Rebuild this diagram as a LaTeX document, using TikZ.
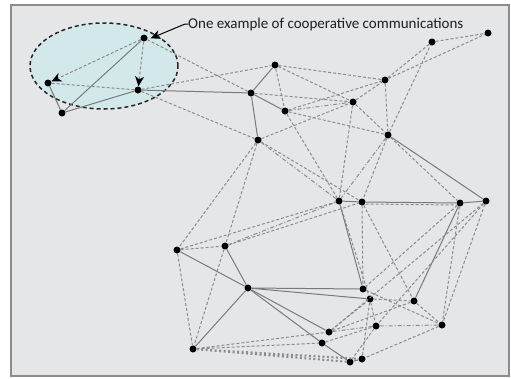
\documentclass[tikz,border=0pt]{standalone}
\usepackage{fontspec}
\setmainfont{Carlito}
\usetikzlibrary{shapes.geometric, arrows.meta, positioning}

\definecolor{panel}{HTML}{E5E6E8}
\definecolor{rim}{HTML}{8C8C8C}
\definecolor{cloud}{HTML}{D3E8EA}
\definecolor{ink}{HTML}{1E1E2A}

\begin{document}
\begin{tikzpicture}[
    x=1pt, y=-1pt,
    dot/.style={circle, fill=black, inner sep=0pt, minimum size=7pt},
    link/.style={draw=black!52, line width=1pt},
    wire/.style={draw=black!45, line width=1pt, dash pattern=on 3pt off 2pt},
    wiredot/.style={draw=black!45, line width=1pt, dash pattern=on 4pt off 2pt on 1pt off 2pt},
    wirethick/.style={draw=black!45, line width=2pt, dash pattern=on 2pt off 2.5pt},
    arrow/.style={-{Stealth[length=10pt,width=9pt,inset=3pt,black]}, line width=1pt}
]
\useasboundingbox (0,0) rectangle (511,378);

% Panel
\draw[fill=panel, draw=rim, line width=1.5pt] (11,5) rectangle (509,376);

% Cooperating group
\node[ellipse, fill=cloud, draw=black!85, line width=1.5pt, dash pattern=on 4pt off 3pt,
      minimum width=148pt, minimum height=86pt, inner sep=0pt] (group) at (104,66) {};

% Terminals
\node[dot] (A) at (144,38) {};
\node[dot] (B) at (48,83) {};
\node[dot] (C) at (138,90) {};
\node[dot] (D) at (62,113) {};
\node[dot] (E) at (251,93) {};
\node[dot] (F) at (275,65) {};
\node[dot] (G) at (285,111) {};
\node[dot] (H) at (353,102) {};
\node[dot] (I) at (385,80) {};
\node[dot] (J) at (388,135) {};
\node[dot] (K) at (258,140) {};
\node[dot] (L) at (432,42) {};
\node[dot] (M) at (488,33) {};
\node[dot] (R) at (339,201) {};
\node[dot] (S) at (362,202) {};
\node[dot] (O) at (460,203) {};
\node[dot] (N) at (486,201) {};
\node[dot] (T) at (177,250) {};
\node[dot] (U) at (225,246) {};
\node[dot] (V) at (248,288) {};
\node[dot] (W) at (193,349) {};
\node[dot] (X1) at (363,289) {};
\node[dot] (X2) at (370,299) {};
\node[dot] (P) at (414,301) {};
\node[dot] (Q) at (442,325) {};
\node[dot] (Y) at (376,326) {};
\node[dot] (Z1) at (329,332) {};
\node[dot] (Z2) at (322,343) {};
\node[dot] (B1) at (350,362) {};
\node[dot] (B2) at (362,359) {};

% Label
\node[font=\fontsize{15}{17}\selectfont, text=ink, anchor=west, inner sep=0pt] (note) at (188,24) {One example of cooperative communications};

% Solid links
\draw[link] (A) -- (D) (B) -- (D) (D) -- (C) (C) -- (E) (E) -- (F) (E) -- (G) (E) -- (K);
\draw[link] (R) -- (S) (S) -- (O) (O) -- (N) (J) -- (N) (R) -- (X1) (O) -- (P);
\draw[link] (T) -- (V) (U) -- (V) (V) -- (W) (V) -- (X1) (V) -- (X2) (V) -- (Z1);
\draw[link] (V) -- (Z2) (Z2) -- (B1) (B1) -- (B2);

% Dashed links
\draw[wire] (A) -- (E) (B) -- (C) (C) -- (F) (C) -- (K) (F) -- (G) (F) -- (H) (F) -- (I);
\draw[wire] (E) -- (H) (G) -- (I) (G) -- (J) (K) -- (H) (H) -- (I) (H) -- (J) (I) -- (J);
\draw[wire] (I) -- (L) (I) -- (M) (L) -- (M) (J) -- (L) (G) -- (R) (H) -- (R) (J) -- (S);
\draw[wire] (K) -- (S) (K) -- (T) (K) -- (U) (T) -- (U) (T) -- (R) (U) -- (S) (J) -- (O);
\draw[wire] ([yshift=-2pt]S.east) -- ([yshift=-2pt]O.west) (S) -- (X1) (R) -- (X2) (S) -- (P);
\draw[wire] (T) -- (W) (U) -- (W) (W) -- (Z1) (W) -- (Z2) (O) -- (X1) (N) -- (Z1) (N) -- (Y);
\draw[wire] (N) -- (Q) (O) -- (Q) (P) -- (Q) (X2) -- (P) (X1) -- (Q) (X2) -- (Y) (X2) -- (B2);
\draw[wire] (Y) -- (B1) (Z2) -- (Y) (Z1) -- (X2) (Q) -- (B2) (P) -- (Z1);

% Dash-dot links
\draw[wiredot] (G) -- (H) (K) -- (R) (J) -- (R) (U) -- (R) (Y) -- (Q) (Y) -- (Z1);

% Heavy dotted links
\draw[wirethick] (W) -- (B1) (W) -- (B2);

% Cooperative relaying
\draw[wire, arrow] (A) -- (B);
\draw[wire, arrow] (A) -- (C);
\draw[arrow, draw=black] (note.west) -- ++(-3,0) -- ([shift={(4pt,-3pt)}]A.north east);

\end{tikzpicture}
\end{document}
